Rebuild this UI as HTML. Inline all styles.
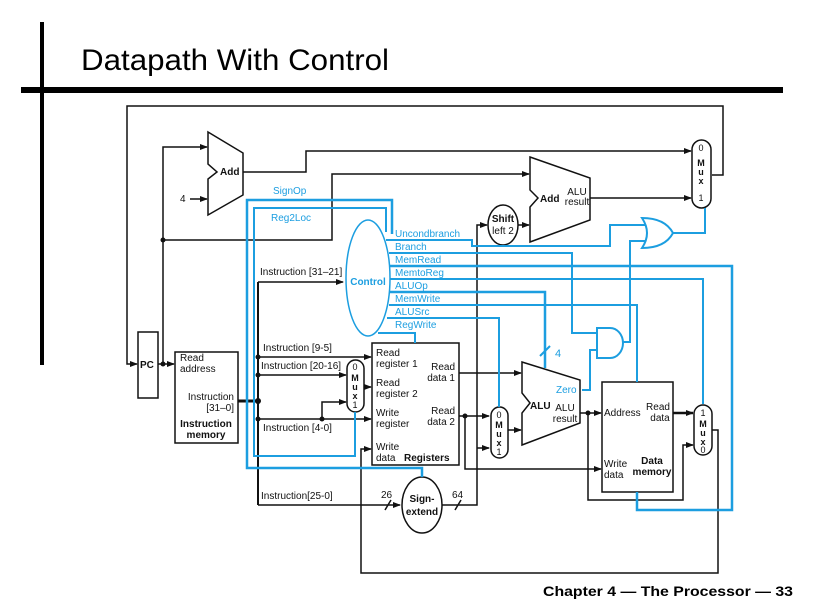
<!DOCTYPE html>
<html><head><meta charset="utf-8"><style>
html,body{margin:0;padding:0;background:#fff;}
svg{display:block;font-family:"Liberation Sans",sans-serif;}
</style></head><body>
<svg width="819" height="614" viewBox="0 0 819 614" xmlns="http://www.w3.org/2000/svg">
<defs>
<marker id="a" markerWidth="8" markerHeight="6" refX="7" refY="3" orient="auto" markerUnits="userSpaceOnUse"><path d="M0,0 L8,3 L0,6 z" fill="#111"/></marker>
</defs>
<rect x="40" y="22" width="4" height="343" fill="#000"/>
<rect x="21" y="87" width="762" height="6" fill="#000"/>
<text x="81" y="70" font-size="30" textLength="308" lengthAdjust="spacingAndGlyphs">Datapath With Control</text>
<text x="543" y="596" font-size="14" font-weight="bold" textLength="250" lengthAdjust="spacingAndGlyphs">Chapter 4 — The Processor — 33</text>

<g fill="none" stroke="#111" stroke-width="1.5">
<polyline points="712,175 723,175 723,106 127,106 127,364 137,364" marker-end="url(#a)"/>
<rect x="138" y="332" width="20" height="66" fill="#fff"/>
<polyline points="158,364 174,364" marker-end="url(#a)"/>
<polyline points="163,364 163,147 207,147" marker-end="url(#a)"/>
<polyline points="163,240 332,240 332,174 529,174" marker-end="url(#a)"/>
<line x1="190" y1="199" x2="207" y2="199" marker-end="url(#a)"/>
<polygon points="208,132 243,153 243,195 208,215 208,179 217,172 208,164" fill="#fff"/>
<polyline points="243,172 306,172 306,151 691,151" marker-end="url(#a)"/>
<rect x="175" y="352" width="63" height="91" fill="#fff"/>
<line x1="238" y1="401" x2="258" y2="401" stroke-width="3"/>
<line x1="258" y1="282" x2="258" y2="505" stroke-width="2"/>
<polyline points="258,282 343,282" marker-end="url(#a)"/>
<polyline points="258,357 371,357" marker-end="url(#a)"/>
<polyline points="258,375 346,375" marker-end="url(#a)"/>
<polyline points="258,419 371,419" marker-end="url(#a)"/>
<polyline points="322,419 322,402 346,402" marker-end="url(#a)"/>
<polyline points="258,505 400,505" marker-end="url(#a)"/>
<line x1="385" y1="510" x2="391" y2="500"/>
<line x1="455" y1="510" x2="461" y2="500"/>
<rect x="347" y="360" width="17" height="52" rx="8.5" fill="#fff"/>
<polyline points="364,387 371,387" marker-end="url(#a)"/>
<rect x="372" y="343" width="87" height="122" fill="#fff"/>
<polyline points="459,373 521,373" marker-end="url(#a)"/>
<polyline points="459,416 489,416" marker-end="url(#a)"/>
<polyline points="465,416 465,469 601,469" marker-end="url(#a)"/>
<ellipse cx="422" cy="505" rx="20" ry="28" fill="#fff"/>
<polyline points="442,505 477,505 477,225 487,225" marker-end="url(#a)"/>
<polyline points="477,448 489,448" marker-end="url(#a)"/>
<ellipse cx="503" cy="225" rx="15" ry="20" fill="#fff"/>
<polyline points="518,225 529,225" marker-end="url(#a)"/>
<polygon points="530,157 590,178 590,220 530,242 530,207 538,198 530,190" fill="#fff"/>
<polyline points="590,198 691,198" marker-end="url(#a)"/>
<rect x="692" y="140" width="19" height="68" rx="9.5" fill="#fff"/>
<rect x="491" y="407" width="17" height="51" rx="8.5" fill="#fff"/>
<polyline points="508,430 521,430" marker-end="url(#a)"/>
<polygon points="522,362 580,380 580,423 522,445 522,413 530,403 522,393" fill="#fff"/>
<polyline points="580,413 601,413" marker-end="url(#a)"/>
<polyline points="588,413 588,500 683,500 683,445 693,445" marker-end="url(#a)"/>
<rect x="602" y="382" width="71" height="110" fill="#fff"/>
<polyline points="673,413 693,413" marker-end="url(#a)" stroke-width="2.5"/>
<rect x="694" y="405" width="18" height="50" rx="9" fill="#fff"/>
<polyline points="712,430 718,430 718,573 361,573 361,449 371,449" marker-end="url(#a)"/>
</g>
<g fill="#111">
<circle cx="163" cy="364" r="2.5"/><circle cx="163" cy="240" r="2.5"/>
<circle cx="258" cy="401" r="3"/><circle cx="258" cy="357" r="2.5"/><circle cx="258" cy="375" r="2.5"/>
<circle cx="258" cy="419" r="2.5"/><circle cx="322" cy="419" r="2.5"/>
<circle cx="465" cy="416" r="2.5"/><circle cx="588" cy="413" r="2.5"/>
</g>

<g fill="none" stroke="#1c9ee0" stroke-width="2">
<ellipse cx="368" cy="278" rx="22" ry="58" fill="#fff" stroke-width="1.5"/>
<polyline points="392,234 392,200 247,200 247,468 422,468 422,477" stroke-width="2.5"/>
<polyline points="386,232 386,208 254,208 254,456 355,456 355,412"/>
<polyline points="386,240 472,240 472,246 610,246 610,225 648,225"/>
<polyline points="389,253 572,253 572,333 598,333"/>
<polyline points="389,266 732,266 732,510 637,510 637,492" stroke-width="2.5"/>
<polyline points="390,279 703,279 703,404"/>
<polyline points="390,292 545,292 545,368" stroke-width="2.5"/>
<line x1="540" y1="356" x2="550" y2="346"/>
<polyline points="389,305 637,305 637,382"/>
<polyline points="387,318 499,318 499,407"/>
<polyline points="378,333 415,333 415,343"/>
<polyline points="582,390 590,390 590,350 598,350"/>
<path d="M597,328 L610,328 A13,15 0 0 1 610,358 L597,358 Z" fill="#fff"/>
<polyline points="623,342 630,342 630,241 646,241"/>
<path d="M642,218 Q665,218 673,233 Q665,248 642,248 Q652,233 642,218 Z" fill="#fff"/>
<polyline points="673,233 705,233 705,208"/>
</g>

<g font-size="10" fill="#111">
<text x="220" y="175" font-weight="bold">Add</text>
<text x="180" y="202">4</text>
<text x="140" y="368" font-weight="bold">PC</text>
<text x="180" y="361">Read</text><text x="180" y="372">address</text>
<text x="234" y="400" text-anchor="end">Instruction</text><text x="234" y="411" text-anchor="end">[31–0]</text>
<text x="206" y="427" text-anchor="middle" font-weight="bold">Instruction</text>
<text x="206" y="438" text-anchor="middle" font-weight="bold">memory</text>
<text x="260" y="275">Instruction [31–21]</text>
<text x="263" y="351">Instruction [9-5]</text>
<text x="261" y="369">Instruction [20-16]</text>
<text x="263" y="431">Instruction [4-0]</text>
<text x="261" y="499">Instruction[25-0]</text>
<text x="381" y="498">26</text><text x="452" y="498">64</text>
<g font-size="9" text-anchor="middle"><text x="355" y="370">0</text><text x="355" y="381" font-weight="bold">M</text><text x="355" y="390" font-weight="bold">u</text><text x="355" y="399" font-weight="bold">x</text><text x="355" y="408">1</text></g>
<text x="376" y="356">Read</text><text x="376" y="367">register 1</text>
<text x="376" y="386">Read</text><text x="376" y="397">register 2</text>
<text x="376" y="416">Write</text><text x="376" y="427">register</text>
<text x="376" y="450">Write</text><text x="376" y="461">data</text>
<text x="455" y="370" text-anchor="end">Read</text><text x="455" y="381" text-anchor="end">data 1</text>
<text x="455" y="414" text-anchor="end">Read</text><text x="455" y="425" text-anchor="end">data 2</text>
<text x="404" y="461" font-weight="bold">Registers</text>
<text x="422" y="502" text-anchor="middle" font-weight="bold">Sign-</text>
<text x="422" y="515" text-anchor="middle" font-weight="bold">extend</text>
<text x="503" y="222" text-anchor="middle" font-weight="bold">Shift</text>
<text x="503" y="234" text-anchor="middle">left 2</text>
<text x="540" y="202" font-weight="bold">Add</text>
<text x="577" y="195" text-anchor="middle">ALU</text><text x="577" y="205" text-anchor="middle">result</text>
<g font-size="9" text-anchor="middle"><text x="701" y="151">0</text><text x="701" y="166" font-weight="bold">M</text><text x="701" y="175" font-weight="bold">u</text><text x="701" y="184" font-weight="bold">x</text><text x="701" y="201">1</text></g>
<g font-size="9" text-anchor="middle"><text x="499" y="418">0</text><text x="499" y="428" font-weight="bold">M</text><text x="499" y="437" font-weight="bold">u</text><text x="499" y="446" font-weight="bold">x</text><text x="499" y="455">1</text></g>
<text x="530" y="409" font-weight="bold">ALU</text>
<text x="565" y="411" text-anchor="middle">ALU</text><text x="565" y="422" text-anchor="middle">result</text>
<text x="604" y="416">Address</text>
<text x="658" y="410" text-anchor="middle">Read</text><text x="660" y="421" text-anchor="middle">data</text>
<text x="604" y="467">Write</text><text x="604" y="478">data</text>
<text x="652" y="464" text-anchor="middle" font-weight="bold">Data</text>
<text x="652" y="475" text-anchor="middle" font-weight="bold">memory</text>
<g font-size="9" text-anchor="middle"><text x="703" y="416">1</text><text x="703" y="427" font-weight="bold">M</text><text x="703" y="436" font-weight="bold">u</text><text x="703" y="445" font-weight="bold">x</text><text x="703" y="453">0</text></g>
</g>
<g font-size="10" fill="#1c9ee0">
<text x="273" y="194">SignOp</text>
<text x="271" y="221">Reg2Loc</text>
<text x="368" y="285" text-anchor="middle" font-weight="bold">Control</text>
<text x="395" y="237">Uncondbranch</text>
<text x="395" y="250">Branch</text>
<text x="395" y="263">MemRead</text>
<text x="395" y="276">MemtoReg</text>
<text x="395" y="289">ALUOp</text>
<text x="395" y="302">MemWrite</text>
<text x="395" y="315">ALUSrc</text>
<text x="395" y="328">RegWrite</text>
<text x="555" y="357" font-size="11">4</text>
<text x="556" y="393">Zero</text>
</g>
</svg>
</body></html>
